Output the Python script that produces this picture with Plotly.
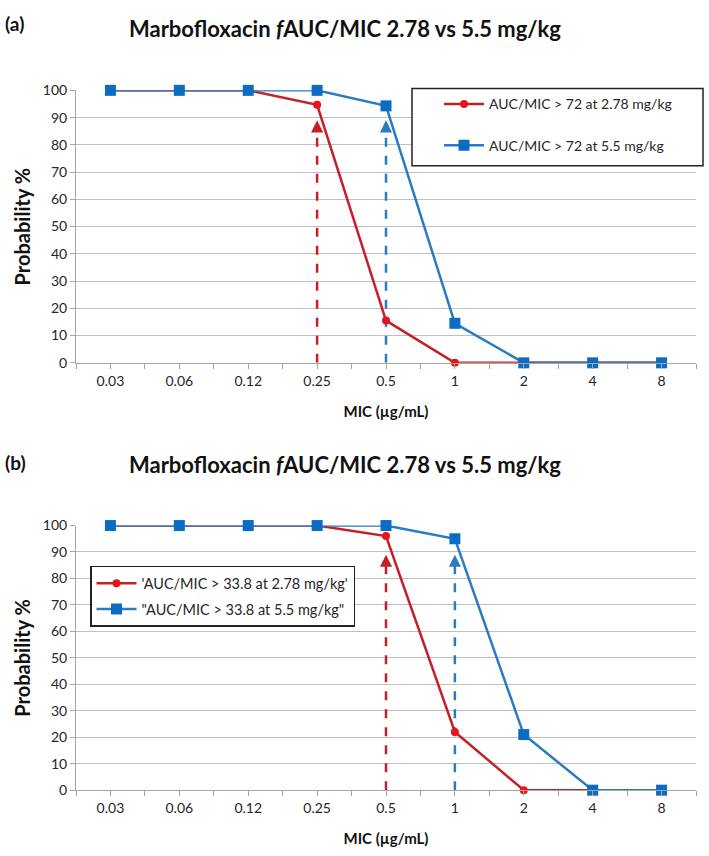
import plotly.graph_objects as go

mic_labels = ["0.03", "0.06", "0.12", "0.25", "0.5", "1", "2", "4", "8"]

a_low_name = "AUC/MIC > 72 at 2.78 mg/kg"
a_high_name = "AUC/MIC > 72 at 5.5 mg/kg"
a_low = [100, 100, 100, 94.7, 15.5, 0, 0, 0, 0]
a_high = [100, 100, 100, 100, 94.3, 14.5, 0, 0, 0]
a_arrow_cats = ["0.25", "0.5"]
a_arrow_tips = [89, 89]

b_low_name = "'AUC/MIC > 33.8 at 2.78 mg/kg'"
b_high_name = "\"AUC/MIC > 33.8 at 5.5 mg/kg\""
b_low = [100, 100, 100, 100, 96, 22, 0, 0, 0]
b_high = [100, 100, 100, 100, 100, 95, 21, 0, 0]
b_arrow_cats = ["0.5", "1"]
b_arrow_tips = [89, 89]

y_ticks = list(range(0, 101, 10))

RED_LINE = "#C42026"
RED_MK = "#E8141C"
BLUE_LINE = "#2A7BC4"
BLUE_MK = "#0B6CC4"
FONT = "Lato"
TXT = "#262626"

idx = list(range(len(mic_labels)))

fig = go.Figure()

panels = [
    ("x", "y", "legend", a_low, a_high, a_low_name, a_high_name, a_arrow_cats, a_arrow_tips),
    ("x2", "y2", "legend2", b_low, b_high, b_low_name, b_high_name, b_arrow_cats, b_arrow_tips),
]

for xa, ya, lg, low, high, lname, hname, acats, atips in panels:
    for cat, tip, col in zip(acats, atips, [RED_LINE, BLUE_LINE]):
        xi = mic_labels.index(cat)
        fig.add_trace(go.Scatter(x=[xi, xi], y=[0, tip - 2], mode="lines",
                                 line=dict(color=col, width=2.5, dash="dash"),
                                 showlegend=False, hoverinfo="skip", xaxis=xa, yaxis=ya))
        fig.add_annotation(x=xi, y=tip, xref=xa, yref=ya, ax=0, ay=12,
                           showarrow=True, arrowhead=2, arrowsize=1.1, arrowwidth=2.2,
                           arrowcolor=col, text="")
    fig.add_trace(go.Scatter(x=idx, y=low, mode="lines+markers", name=lname,
                             line=dict(color=RED_LINE, width=2.5),
                             marker=dict(symbol="circle", size=8, color=RED_MK),
                             legend=lg, legendgroup=lg + "a", cliponaxis=False,
                             xaxis=xa, yaxis=ya))
    fig.add_trace(go.Scatter(x=idx, y=high, mode="lines+markers", name=hname,
                             line=dict(color=BLUE_LINE, width=2.5),
                             marker=dict(symbol="square", size=11, color=BLUE_MK),
                             legend=lg, legendgroup=lg + "b", cliponaxis=False,
                             xaxis=xa, yaxis=ya))

xaxis_common = dict(
    range=[-0.5, len(mic_labels) - 0.5], tickmode="array", tickvals=idx, ticktext=mic_labels,
    showgrid=False, zeroline=False, showline=True, linecolor="#A6A6A6", linewidth=1,
    ticks="outside", ticklen=5, tickcolor="#A6A6A6",
    minor=dict(dtick=0.5, tick0=-0.5, ticks="outside", ticklen=5, tickcolor="#A6A6A6", showgrid=False),
    tickfont=dict(family=FONT, size=14, color=TXT),
    title=dict(text="<b>MIC (µg/mL)</b>", font=dict(family=FONT, size=15, color="#111"), standoff=18),
)
yaxis_common = dict(
    range=[0, 100], tickvals=y_ticks, showgrid=True, gridcolor="#BFBFBF", gridwidth=1,
    zeroline=False, showline=True, linecolor="#A6A6A6", linewidth=1,
    ticks="outside", ticklen=5, tickcolor="#A6A6A6",
    tickfont=dict(family=FONT, size=14, color=TXT),
    title=dict(text="<b>Probability %</b>", font=dict(family=FONT, size=20, color="#111"), standoff=6),
)

W, H = 709, 856
xdom = [76 / W, 696 / W]

# legend (a) frame drawn as a shape so the box can be wider than the entries
fig.add_shape(type="rect", xref="paper", yref="paper",
              x0=412 / W, x1=703 / W, y0=1 - 160 / H, y1=1 - 81 / H,
              line=dict(color="#222", width=1.5), fillcolor="white", layer="above")

fig.update_layout(
    width=W, height=H, margin=dict(l=0, r=0, t=0, b=0),
    paper_bgcolor="white", plot_bgcolor="white",
    xaxis=dict(domain=xdom, anchor="y", **xaxis_common),
    yaxis=dict(domain=[1 - 361 / H, 1 - 83 / H], anchor="x", **yaxis_common),
    xaxis2=dict(domain=xdom, anchor="y2", **xaxis_common),
    yaxis2=dict(domain=[1 - 797 / H, 1 - 527 / H], anchor="x2", **yaxis_common),
    legend=dict(x=439 / W, y=1 - 81 / H, xanchor="left", yanchor="top",
                borderwidth=0, bgcolor="rgba(0,0,0,0)",
                font=dict(family=FONT, size=14, color=TXT), tracegroupgap=20, itemwidth=40),
    legend2=dict(x=90 / W, y=1 - 568 / H, xanchor="left", yanchor="top",
                 bordercolor="#222", borderwidth=1.5, bgcolor="white",
                 font=dict(family=FONT, size=14.5, color=TXT), tracegroupgap=4, itemwidth=40),
    showlegend=True,
)

title_text = "<b>Marbofloxacin <i>f</i>AUC/MIC 2.78 vs 5.5 mg/kg</b>"
for lab, ylab, ytitle in [("(a)", 15, 20), ("(b)", 463, 465)]:
    fig.add_annotation(x=3 / W, y=1 - ylab / H, xref="paper", yref="paper", text="<b>" + lab + "</b>",
                       showarrow=False, xanchor="left", yanchor="middle",
                       font=dict(family=FONT, size=19, color="#111"))
    fig.add_annotation(x=345 / W, y=1 - ytitle / H, xref="paper", yref="paper", text=title_text,
                       showarrow=False, xanchor="center", yanchor="middle",
                       font=dict(family=FONT, size=22, color="#111"))

fig.write_html("out.html")
